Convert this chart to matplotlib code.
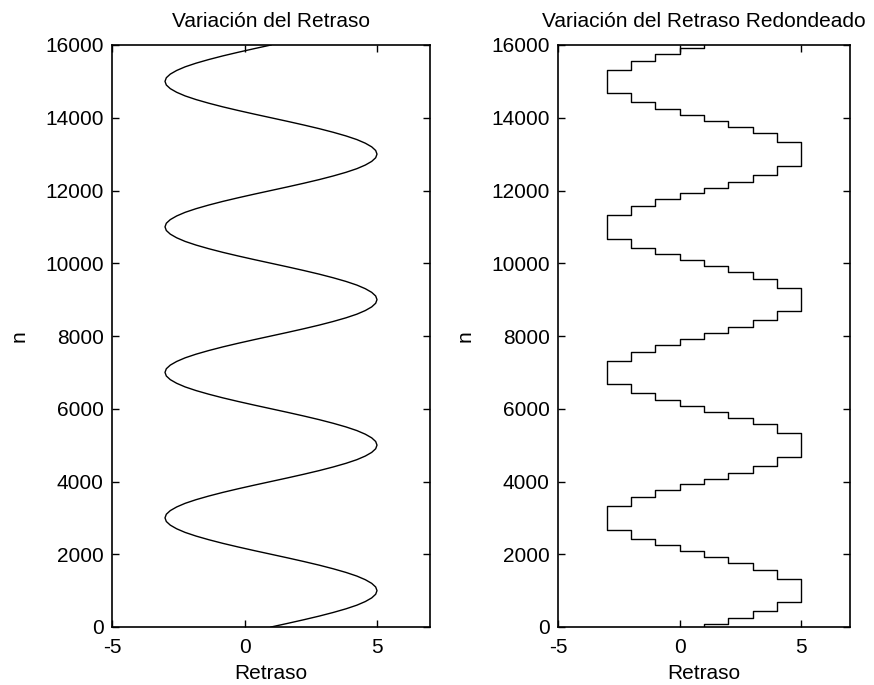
import matplotlib
matplotlib.use("Agg")
import matplotlib.pyplot as plt
import numpy as np

plt.rcParams['font.family'] = ['Liberation Sans', 'DejaVu Sans']
plt.rcParams['axes.unicode_minus'] = False

# muestras del retraso (cada 100 muestras de n)
n_samples = np.arange(0, 16001, 100)
delay = [
    1.00, 1.63, 2.24, 2.82, 3.35, 3.83, 4.24, 4.56, 4.80, 4.95,
    5.00, 4.95, 4.80, 4.56, 4.24, 3.83, 3.35, 2.82, 2.24, 1.63,
    1.00, 0.37, -0.24, -0.82, -1.35, -1.83, -2.24, -2.56, -2.80, -2.95,
    -3.00, -2.95, -2.80, -2.56, -2.24, -1.83, -1.35, -0.82, -0.24, 0.37,
    1.00, 1.63, 2.24, 2.82, 3.35, 3.83, 4.24, 4.56, 4.80, 4.95,
    5.00, 4.95, 4.80, 4.56, 4.24, 3.83, 3.35, 2.82, 2.24, 1.63,
    1.00, 0.37, -0.24, -0.82, -1.35, -1.83, -2.24, -2.56, -2.80, -2.95,
    -3.00, -2.95, -2.80, -2.56, -2.24, -1.83, -1.35, -0.82, -0.24, 0.37,
    1.00, 1.63, 2.24, 2.82, 3.35, 3.83, 4.24, 4.56, 4.80, 4.95,
    5.00, 4.95, 4.80, 4.56, 4.24, 3.83, 3.35, 2.82, 2.24, 1.63,
    1.00, 0.37, -0.24, -0.82, -1.35, -1.83, -2.24, -2.56, -2.80, -2.95,
    -3.00, -2.95, -2.80, -2.56, -2.24, -1.83, -1.35, -0.82, -0.24, 0.37,
    1.00, 1.63, 2.24, 2.82, 3.35, 3.83, 4.24, 4.56, 4.80, 4.95,
    5.00, 4.95, 4.80, 4.56, 4.24, 3.83, 3.35, 2.82, 2.24, 1.63,
    1.00, 0.37, -0.24, -0.82, -1.35, -1.83, -2.24, -2.56, -2.80, -2.95,
    -3.00, -2.95, -2.80, -2.56, -2.24, -1.83, -1.35, -0.82, -0.24, 0.37,
    1.00,
]

# retraso redondeado: limites de cada tramo y su nivel
step_n = [
    0, 80, 245, 430, 680, 1320, 1570, 1755, 1920,
    2080, 2245, 2430, 2680, 3320, 3570, 3755, 3920,
    4080, 4245, 4430, 4680, 5320, 5570, 5755, 5920,
    6080, 6245, 6430, 6680, 7320, 7570, 7755, 7920,
    8080, 8245, 8430, 8680, 9320, 9570, 9755, 9920,
    10080, 10245, 10430, 10680, 11320, 11570, 11755, 11920,
    12080, 12245, 12430, 12680, 13320, 13570, 13755, 13920,
    14080, 14245, 14430, 14680, 15320, 15570, 15755, 15920,
    16000,
]
step_level = [
    1, 2, 3, 4, 5, 4, 3, 2, 1, 0, -1, -2, -3, -2, -1, 0,
    1, 2, 3, 4, 5, 4, 3, 2, 1, 0, -1, -2, -3, -2, -1, 0,
    1, 2, 3, 4, 5, 4, 3, 2, 1, 0, -1, -2, -3, -2, -1, 0,
    1, 2, 3, 4, 5, 4, 3, 2, 1, 0, -1, -2, -3, -2, -1, 0,
    1,
]

x_ticks = [-5, 0, 5]
y_ticks = np.arange(0, 16001, 2000)

fig = plt.figure(figsize=(8.74, 6.85), dpi=100)
W, H = 874, 685
ax1 = fig.add_axes([112 / W, 58 / H, 318 / W, 582 / H])
ax2 = fig.add_axes([558 / W, 58 / H, 292 / W, 582 / H])

ax1.plot(delay, n_samples, color='black', linewidth=1.0)

sx = np.repeat(step_level, 2)
sy = np.column_stack([step_n[:-1], step_n[1:]]).ravel()
ax2.plot(sx, sy, color='black', linewidth=1.0)

titles = ['Variación del Retraso', 'Variación del Retraso Redondeado']
for ax, t in zip([ax1, ax2], titles):
    ax.set_xlim(-5, 7)
    ax.set_ylim(0, 16000)
    ax.set_xticks(x_ticks)
    ax.set_yticks(y_ticks)
    ax.tick_params(direction='in', length=5, width=1, top=True, right=True,
                   labelsize=15, color='black')
    ax.tick_params(axis='x', pad=8)
    ax.tick_params(axis='y', pad=6)
    for s in ax.spines.values():
        s.set_linewidth(1.2)
    ax.set_title(t, fontsize=15, pad=13)
    ax.set_xlabel('Retraso', fontsize=15, labelpad=5)
    ax.set_ylabel('n', fontsize=15, labelpad=12)

fig.savefig('out.png', dpi=100)
